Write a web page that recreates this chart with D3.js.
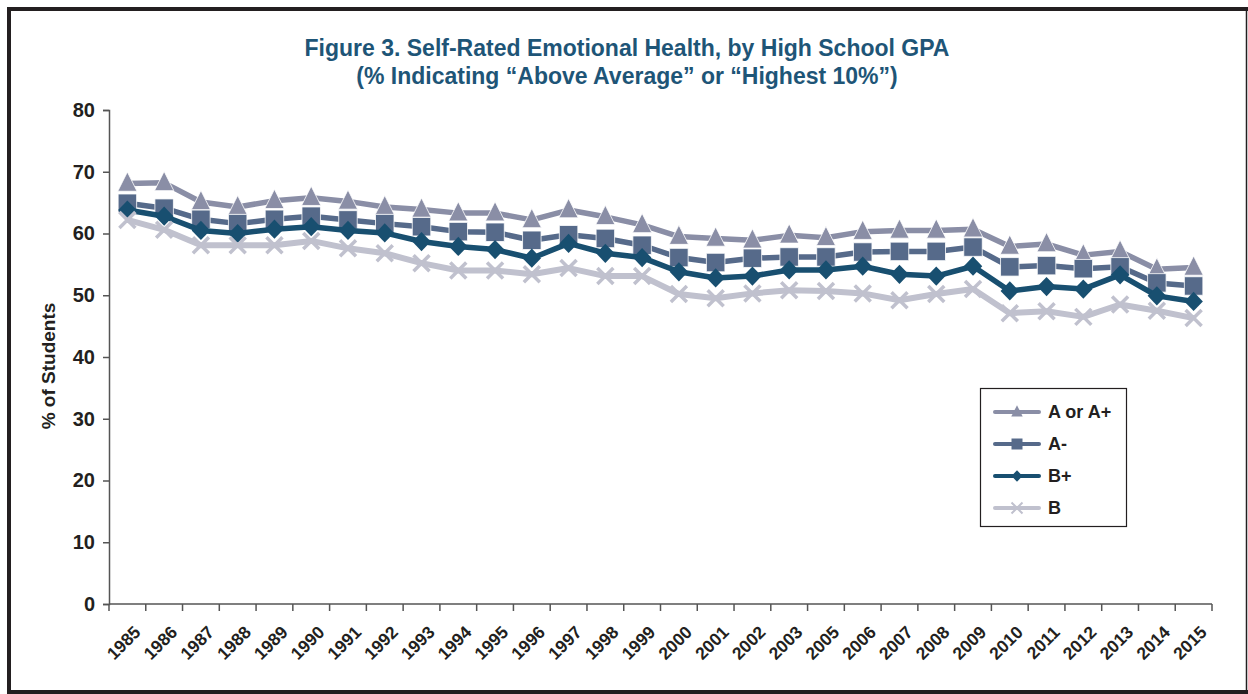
<!DOCTYPE html>
<html>
<head>
<meta charset="utf-8">
<script src="https://cdn.jsdelivr.net/npm/d3@7"></script>
<style>
  body { margin: 0; background: #fff; }
  svg { display: block; font-family: "Liberation Sans", Arial, sans-serif; }
</style>
</head>
<body>
<div id="vis"></div>
<script>
var years = ["1985","1986","1987","1988","1989","1990","1991","1992","1993","1994",
  "1995","1996","1997","1998","1999","2000","2001","2002","2003","2005",
  "2006","2007","2008","2009","2010","2011","2012","2013","2014","2015"];

var aOrAPlus = [68.1, 68.2, 65.1, 64.3, 65.3, 65.8, 65.2, 64.3, 63.9, 63.3,
  63.3, 62.2, 63.8, 62.7, 61.4, 59.5, 59.2, 58.9, 59.7, 59.3,
  60.3, 60.5, 60.5, 60.7, 57.9, 58.3, 56.5, 57.1, 54.2, 54.5];
var aMinus = [64.9, 64.1, 62.3, 61.6, 62.3, 62.8, 62.2, 61.6, 61.1, 60.3,
  60.2, 58.9, 59.8, 59.2, 58.1, 56.1, 55.3, 56.0, 56.2, 56.2,
  57.0, 57.1, 57.1, 57.8, 54.6, 54.8, 54.3, 54.6, 52.0, 51.5];
var bPlus = [63.8, 62.8, 60.5, 60.0, 60.7, 61.1, 60.5, 60.1, 58.7, 57.9,
  57.4, 56.0, 58.4, 56.8, 56.1, 53.8, 52.8, 53.1, 54.1, 54.1,
  54.7, 53.4, 53.1, 54.7, 50.7, 51.4, 51.0, 53.3, 49.9, 49.0];
var bGrade = [62.2, 60.6, 58.1, 58.1, 58.1, 58.8, 57.6, 56.8, 55.2, 54.0,
  54.0, 53.4, 54.4, 53.1, 53.1, 50.2, 49.5, 50.3, 50.8, 50.7,
  50.3, 49.2, 50.2, 51.0, 47.1, 47.4, 46.5, 48.5, 47.5, 46.3];

var seriesNames = ["A or A+", "A-", "B+", "B"];
var yTicks = [0, 10, 20, 30, 40, 50, 60, 70, 80];

function draw() {
  var width = 1248, height = 694;
  var left = 109, right = 1212, top = 110, bottom = 604;

  var series = [
    {name: seriesNames[0], values: aOrAPlus, color: "#8a8ea6", marker: "triangle"},
    {name: seriesNames[1], values: aMinus, color: "#566a8a", marker: "square"},
    {name: seriesNames[2], values: bPlus, color: "#184f70", marker: "diamond"},
    {name: seriesNames[3], values: bGrade, color: "#c0c1ce", marker: "x"}
  ];

  var svg = d3.select("#vis").append("svg")
    .attr("width", width)
    .attr("height", height);

  // frame
  var ink = "#231f20";
  svg.append("line").attr("x1", 7).attr("x2", 1248).attr("y1", 9).attr("y2", 9)
    .attr("stroke", ink).attr("stroke-width", 4);
  svg.append("line").attr("x1", 9).attr("x2", 9).attr("y1", 7).attr("y2", 694)
    .attr("stroke", ink).attr("stroke-width", 4);
  svg.append("line").attr("x1", 7).attr("x2", 1248).attr("y1", 692).attr("y2", 692)
    .attr("stroke", ink).attr("stroke-width", 4);
  svg.append("line").attr("x1", 1246.5).attr("x2", 1246.5).attr("y1", 7).attr("y2", 694)
    .attr("stroke", ink).attr("stroke-width", 1.5);

  // title
  var title = svg.append("text")
    .attr("text-anchor", "middle")
    .attr("fill", "#1e5577")
    .attr("font-weight", "bold")
    .attr("font-size", "23px");
  title.append("tspan").attr("x", 627).attr("y", 56)
    .text("Figure 3. Self-Rated Emotional Health, by High School GPA");
  title.append("tspan").attr("x", 627).attr("y", 84)
    .text("(% Indicating \u201cAbove Average\u201d or \u201cHighest 10%\u201d)");

  var x = d3.scaleBand().domain(years).range([left, right]).padding(0);
  var y = d3.scaleLinear().domain([0, 80]).range([bottom, top]);

  // y axis
  var yAxis = svg.append("g")
    .attr("transform", "translate(" + left + ",0)")
    .call(d3.axisLeft(y).tickValues(yTicks).tickSize(6).tickPadding(8));
  yAxis.select(".domain").attr("stroke", "#555").attr("stroke-width", 1.5);
  yAxis.selectAll(".tick line").attr("stroke", "#555").attr("stroke-width", 1.5);
  yAxis.selectAll(".tick text")
    .attr("font-family", "Liberation Sans, Arial, sans-serif")
    .attr("font-size", "20px")
    .attr("font-weight", "bold")
    .attr("fill", "#231f20");

  svg.append("text")
    .attr("transform", "translate(55," + ((top + bottom) / 2 + 9) + ") rotate(-90)")
    .attr("text-anchor", "middle")
    .attr("font-size", "19px")
    .attr("font-weight", "bold")
    .attr("fill", "#231f20")
    .text("% of Students");

  // x axis: line, ticks at band edges, rotated labels
  var xAxis = svg.append("g").attr("transform", "translate(0," + bottom + ")");
  xAxis.append("line").attr("x1", left).attr("x2", right)
    .attr("stroke", "#555").attr("stroke-width", 1.5);
  var edges = years.map(function(d) { return x(d); }).concat([right]);
  xAxis.selectAll(".edge").data(edges).enter().append("line")
    .attr("x1", function(d) { return d; })
    .attr("x2", function(d) { return d; })
    .attr("y1", 0).attr("y2", 7)
    .attr("stroke", "#555").attr("stroke-width", 1.5);
  xAxis.selectAll(".lbl").data(years).enter().append("text")
    .attr("transform", function(d) {
      return "translate(" + (x(d) + x.bandwidth() / 2 + 10) + ",25) rotate(-45)";
    })
    .attr("text-anchor", "end")
    .attr("dy", "0.35em")
    .attr("font-size", "17.5px")
    .attr("font-weight", "bold")
    .attr("fill", "#231f20")
    .text(function(d) { return d; });

  function markerPath(type, s) {
    if (type === "triangle") {
      return "M0," + (-s * 0.62) + "L" + (s * 0.52) + "," + (s * 0.42) + "L" + (-s * 0.52) + "," + (s * 0.42) + "Z";
    }
    if (type === "square") {
      var h = s / 2;
      return "M" + (-h) + "," + (-h) + "H" + h + "V" + h + "H" + (-h) + "Z";
    }
    if (type === "diamond") {
      var w = s * 0.5, t = s * 0.52;
      return "M0," + (-t) + "L" + w + ",0L0," + t + "L" + (-w) + ",0Z";
    }
    var k = s / 2;
    return "M" + (-k) + "," + (-k) + "L" + k + "," + k + "M" + k + "," + (-k) + "L" + (-k) + "," + k;
  }

  var line = d3.line()
    .x(function(d, i) { return x(years[i]) + x.bandwidth() / 2; })
    .y(function(d) { return y(d); });

  series.forEach(function(s) {
    var g = svg.append("g");
    g.append("path")
      .attr("d", line(s.values))
      .attr("fill", "none")
      .attr("stroke", s.color)
      .attr("stroke-width", s.marker === "x" ? 6 : 5.5)
      .attr("stroke-linejoin", "round");
    g.selectAll("path.m").data(s.values).enter().append("path")
      .attr("class", "m")
      .attr("transform", function(d, i) {
        return "translate(" + (x(years[i]) + x.bandwidth() / 2) + "," + y(d) + ")";
      })
      .attr("d", markerPath(s.marker, s.marker === "x" ? 16 : 18.5))
      .attr("fill", s.marker === "x" ? "none" : s.color)
      .attr("stroke", s.marker === "x" ? s.color : "#fff")
      .attr("stroke-width", s.marker === "x" ? 3.5 : (s.marker === "diamond" ? 0 : 0.8));
  });

  // legend
  var lg = svg.append("g");
  lg.append("rect")
    .attr("x", 980.5).attr("y", 388.5).attr("width", 146).attr("height", 138)
    .attr("fill", "#fff").attr("stroke", "#231f20").attr("stroke-width", 1.2);
  series.forEach(function(s, i) {
    var ry = 412 + i * 32;
    lg.append("line")
      .attr("x1", 995).attr("x2", 1039).attr("y1", ry).attr("y2", ry)
      .attr("stroke", s.color).attr("stroke-width", 4).attr("stroke-linecap", "round");
    lg.append("path")
      .attr("transform", "translate(1017," + ry + ")")
      .attr("d", markerPath(s.marker, 11))
      .attr("fill", s.marker === "x" ? "none" : s.color)
      .attr("stroke", s.marker === "x" ? s.color : "none")
      .attr("stroke-width", 2);
    lg.append("text")
      .attr("x", 1048).attr("y", ry).attr("dy", "0.36em")
      .attr("font-size", "18px").attr("font-weight", "bold")
      .attr("fill", "#231f20")
      .text(s.name);
  });
}

draw();
</script>
</body>
</html>
